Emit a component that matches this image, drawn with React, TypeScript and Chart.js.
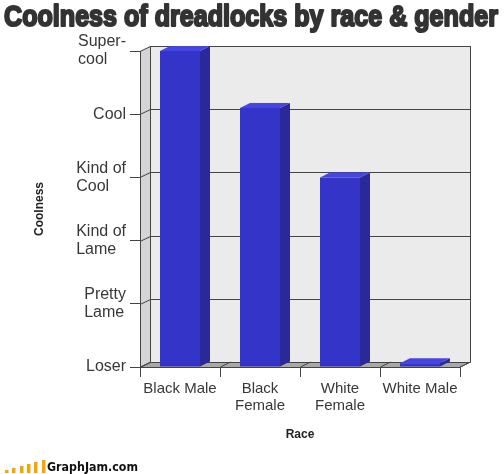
import React, { useEffect, useRef } from "react";
import { Chart, registerables } from "chart.js";

Chart.register(...registerables);

const TITLE = "Coolness of dreadlocks by race & gender";
const categories: (string | string[])[] = ["Black Male", ["Black", "Female"], ["White", "Female"], "White Male"];
const coolness = [5.0, 4.1, 3.0, 0.06];
const levelLabels: (string | string[])[] = [
  "Loser",
  ["Pretty", "Lame"],
  ["Kind of", "Lame"],
  ["Kind of", "Cool"],
  "Cool",
  ["Super-", "cool"],
];
const X_TITLE = "Race";
const Y_TITLE = "Coolness";
const LOGO_TEXT = "GraphJam.com";
const logoBarHeights = [3, 5, 7, 9, 11, 13];

const DX = 10;
const DY = -5;
const FONT = '"Liberation Sans", Arial, sans-serif';

const threeD = {
  id: "threeD",
  beforeDraw(chart: any) {
    const { ctx, chartArea: a, scales } = chart;
    const x = scales.x;
    const y = scales.y;
    const L = a.left, R = a.right, T = a.top, B = a.bottom;
    ctx.save();
    ctx.fillStyle = "#ebebeb";
    ctx.fillRect(L + DX, T + DY, R - L, B - T);
    ctx.fillStyle = "#d4d4d4";
    ctx.beginPath();
    ctx.moveTo(L, T);
    ctx.lineTo(L + DX, T + DY);
    ctx.lineTo(L + DX, B + DY);
    ctx.lineTo(L, B);
    ctx.closePath();
    ctx.fill();
    ctx.fillStyle = "#a8a8a8";
    ctx.beginPath();
    ctx.moveTo(L, B);
    ctx.lineTo(L + DX, B + DY);
    ctx.lineTo(R + DX, B + DY);
    ctx.lineTo(R, B);
    ctx.closePath();
    ctx.fill();

    ctx.strokeStyle = "#444444";
    ctx.lineWidth = 1;
    y.ticks.forEach((_t: any, i: number) => {
      const py = Math.round(y.getPixelForTick(i)) + 0.5;
      ctx.beginPath();
      ctx.moveTo(L, py);
      ctx.lineTo(L + DX + 0.5, py + DY);
      ctx.lineTo(R + DX + 0.5, py + DY);
      ctx.stroke();
    });
    ctx.beginPath();
    ctx.moveTo(L + DX + 0.5, T + DY);
    ctx.lineTo(L + DX + 0.5, B + DY);
    ctx.moveTo(R + DX + 0.5, T + DY);
    ctx.lineTo(R + DX + 0.5, B + DY);
    ctx.lineTo(R, B);
    ctx.stroke();
    const n = x.ticks.length;
    const step = n > 1 ? x.getPixelForTick(1) - x.getPixelForTick(0) : R - L;
    for (let k = 0; k <= n; k++) {
      const bx = Math.round(x.getPixelForTick(0) - step / 2 + k * step) + 0.5;
      ctx.beginPath();
      ctx.moveTo(bx, B);
      ctx.lineTo(bx + DX, B + DY);
      ctx.stroke();
    }
    ctx.restore();
  },
  afterDatasetsDraw(chart: any) {
    const { ctx } = chart;
    const meta = chart.getDatasetMeta(0);
    ctx.save();
    meta.data.forEach((bar: any) => {
      const { x, y, base, width } = bar.getProps(["x", "y", "base", "width"], true);
      const left = x - width / 2;
      const right = x + width / 2;
      ctx.fillStyle = "#29299a";
      ctx.beginPath();
      ctx.moveTo(right, y);
      ctx.lineTo(right + DX, y + DY);
      ctx.lineTo(right + DX, base + DY);
      ctx.lineTo(right, base);
      ctx.closePath();
      ctx.fill();
      ctx.fillStyle = "#4545e6";
      ctx.beginPath();
      ctx.moveTo(left, y);
      ctx.lineTo(left + DX, y + DY);
      ctx.lineTo(right + DX, y + DY);
      ctx.lineTo(right, y);
      ctx.closePath();
      ctx.fill();
    });
    ctx.restore();
  },
  afterDraw(chart: any) {
    const { ctx, chartArea: a, scales } = chart;
    const y = scales.y;
    ctx.save();
    ctx.font = `16px ${FONT}`;
    ctx.fillStyle = "#383838";
    ctx.textBaseline = "middle";
    ctx.textAlign = "left";
    const lh = 18;
    y.ticks.forEach((t: any, i: number) => {
      const lab = levelLabels[Math.round(t.value)];
      if (lab === undefined) return;
      const lines = Array.isArray(lab) ? lab : [lab];
      const w = Math.max(...lines.map((s) => ctx.measureText(s).width));
      const x0 = a.left - 14 - w;
      const py = y.getPixelForTick(i);
      lines.forEach((s, j) => {
        ctx.fillText(s, x0, py + (j - (lines.length - 1) / 2) * lh);
      });
    });

    ctx.font = `bold 30px ${FONT}`;
    ctx.textBaseline = "alphabetic";
    ctx.fillStyle = "#333333";
    ctx.strokeStyle = "#333333";
    ctx.lineWidth = 2.2;
    ctx.lineJoin = "round";
    const tw = ctx.measureText(TITLE).width;
    const target = 494;
    ctx.save();
    ctx.translate(4, 25.5);
    ctx.scale(target / tw, 1);
    ctx.fillText(TITLE, 0, 0);
    ctx.strokeText(TITLE, 0, 0);
    ctx.restore();

    ctx.fillStyle = "#f7a600";
    logoBarHeights.forEach((h, k) => {
      ctx.fillRect(Math.round(5 + k * 7.3), 473 - h, 3.5, h);
    });
    ctx.font = 'bold 13px "DejaVu Sans", Verdana, sans-serif';
    ctx.fillStyle = "#111111";
    const lw = ctx.measureText(LOGO_TEXT).width;
    ctx.save();
    ctx.translate(47, 471);
    ctx.scale(91 / lw, 1);
    ctx.fillText(LOGO_TEXT, 0, 0);
    ctx.restore();

    ctx.restore();
  },
};

export default function App() {
  const ref = useRef<HTMLCanvasElement | null>(null);
  useEffect(() => {
    if (!ref.current) return;
    const chart = new Chart(ref.current, {
      type: "bar",
      data: {
        labels: categories as any,
        datasets: [
          {
            data: coolness,
            backgroundColor: "#3434c8",
            borderWidth: 0,
            barPercentage: 0.5,
            categoryPercentage: 1,
          },
        ],
      },
      options: {
        responsive: false,
        animation: false,
        devicePixelRatio: 1,
        layout: { padding: { top: 51, right: 44, bottom: 0, left: 0 } },
        plugins: {
          legend: { display: false },
          tooltip: { enabled: false },
          title: { display: false },
        },
        scales: {
          x: {
            offset: true,
            grid: {
              offset: true,
              drawOnChartArea: false,
              drawTicks: true,
              tickLength: 10,
              color: "#444444",
            },
            border: { display: true, color: "#444444" },
            ticks: {
              color: "#383838",
              font: { family: FONT, size: 15, lineHeight: "17px" } as any,
              padding: 3,
              maxRotation: 0,
              autoSkip: false,
            },
            title: {
              display: true,
              text: X_TITLE,
              color: "#222222",
              font: { family: FONT, size: 12, weight: "bold" },
              padding: { top: 0, bottom: 32 },
            },
            afterFit: (s: any) => {
              s.height = 107;
            },
          },
          y: {
            min: 0,
            max: 5,
            ticks: { stepSize: 1, display: false },
            grid: {
              drawOnChartArea: false,
              drawTicks: true,
              tickLength: 10,
              color: "#444444",
            },
            border: { display: true, color: "#444444" },
            title: {
              display: true,
              text: Y_TITLE,
              color: "#222222",
              font: { family: FONT, size: 12, weight: "bold" },
              padding: { top: 32, bottom: 0 },
            },
            afterFit: (s: any) => {
              s.width = 140;
            },
          },
        },
      },
      plugins: [threeD],
    });
    return () => chart.destroy();
  }, []);
  return (
    <div style={{ position: "absolute", left: 0, top: 0, width: 504, height: 474, background: "#ffffff" }}>
      <canvas ref={ref} width={504} height={474} style={{ display: "block" }} />
    </div>
  );
}
